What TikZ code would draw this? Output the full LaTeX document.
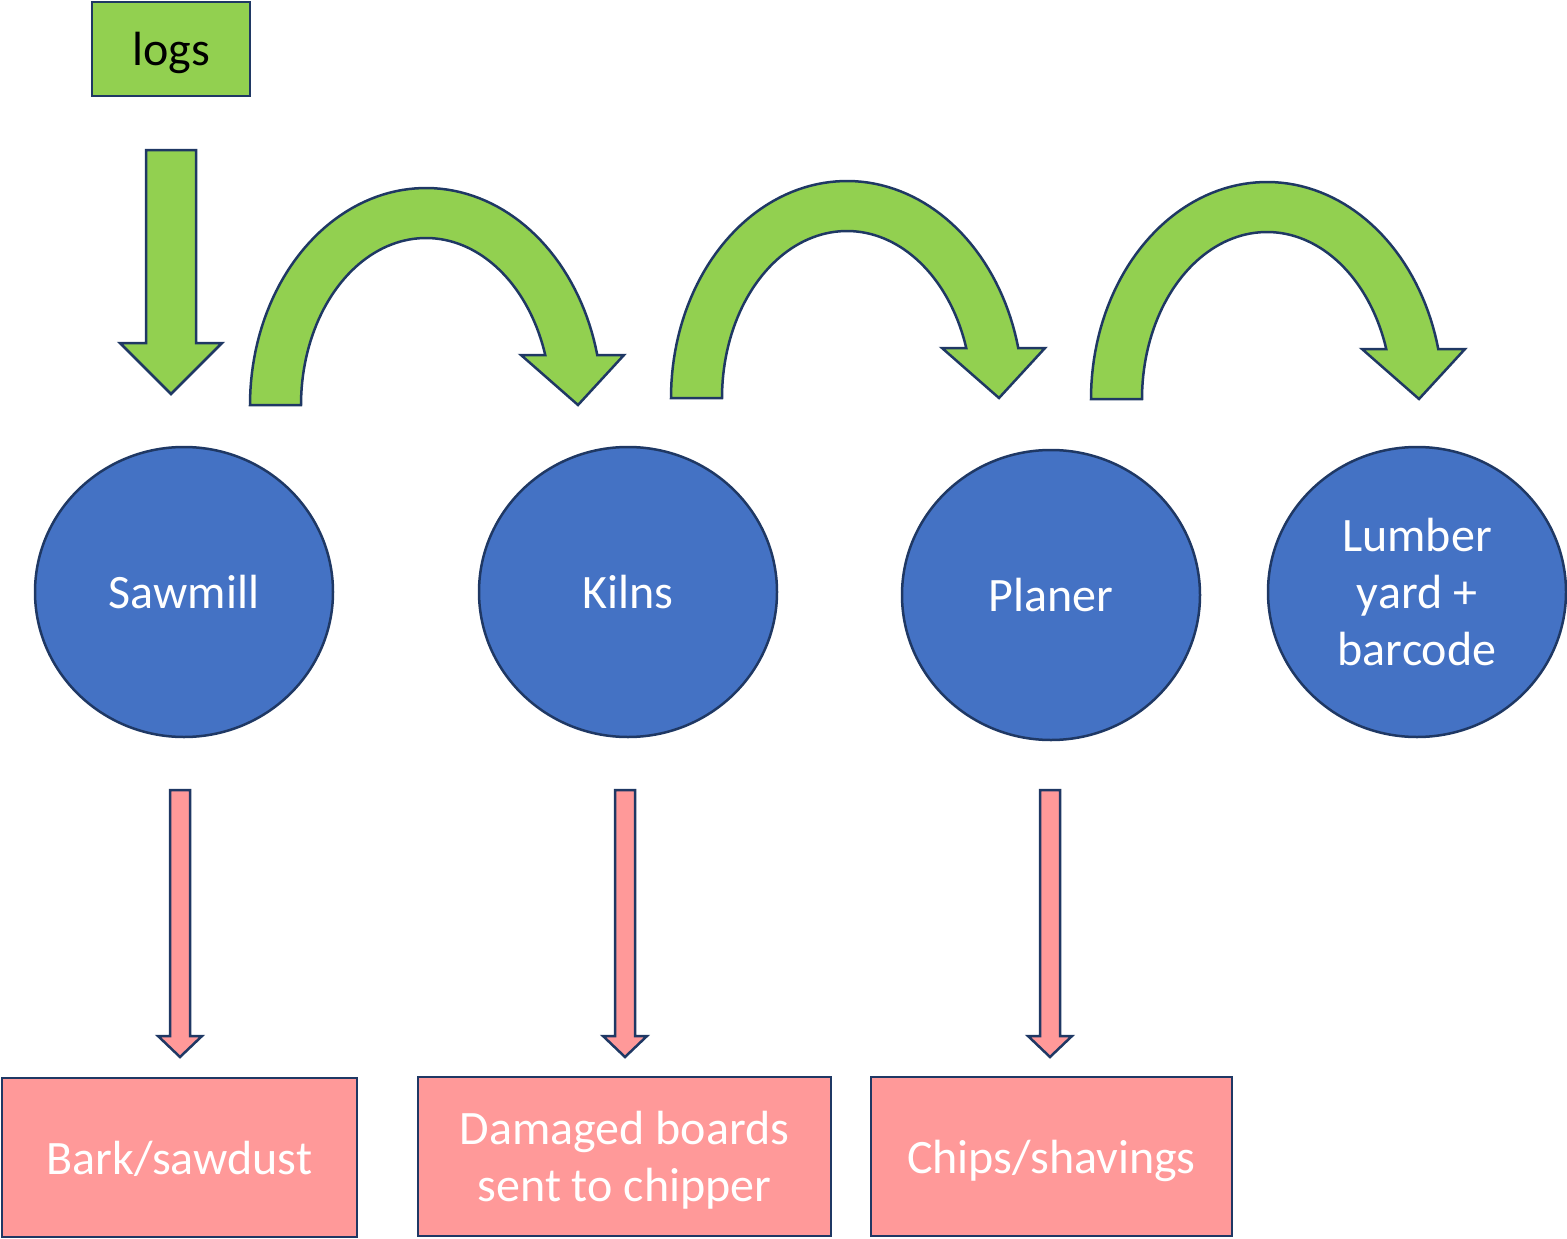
\documentclass[tikz,border=0pt]{standalone}
\usepackage{fontspec}
\setmainfont{Carlito}
\usetikzlibrary{shapes.geometric}
\definecolor{leaf}{HTML}{92D050}
\definecolor{steelblue}{HTML}{4472C4}
\definecolor{salmon}{HTML}{FF9999}
\definecolor{navy}{HTML}{1F3864}
\tikzset{
  outline/.style={draw=navy, line width=2.5pt, line join=miter},
  greenshape/.style={outline, fill=leaf},
  pinkshape/.style={outline, fill=salmon},
  label text/.style={text depth=0pt, align=center, font=\fontsize{48}{57}\selectfont},
  stage/.style={ellipse, outline, fill=steelblue, minimum width=298pt, minimum height=290pt,
    inner sep=0pt, text=white, label text},
  waste/.style={rectangle, pinkshape, text=white, label text},
}
\begin{document}
\begin{tikzpicture}[x=1pt,y=-1pt]
\useasboundingbox (0,0) rectangle (1567,1239);

% input
\node[rectangle, greenshape, minimum width=158pt, minimum height=94pt, inner sep=0pt,
  label text] (logs) at (171,49) {logs};

% process stages
\node[stage] (sawmill) at (184,592) {Sawmill};
\node[stage] (kilns) at (628,592) {Kilns};
\node[stage] (planer) at (1051,595) {Planer};
\node[stage] (yard) at (1417,592) {Lumber\\yard +\\barcode};

% by-products
\node[waste, minimum width=355pt, minimum height=159pt] (bark) at (179.5,1157.5) {Bark/sawdust};
\node[waste, minimum width=413pt, minimum height=159pt] (damaged) at (624.5,1156.5) {Damaged boards\\sent to chipper};
\node[waste, minimum width=361pt, minimum height=159pt] (chips) at (1051.5,1156.5) {Chips/shavings};

% straight block arrow into the sawmill
\draw[greenshape] (146,150) -- (196,150) -- (196,343) -- (222,343) -- (171,394)
  -- (120,343) -- (146,343) -- cycle;

% curved block arrows between stages
\foreach \cx/\cy in {426/405, 847/398, 1267/399}{
  \draw[greenshape]
    plot[domain=180:346.68, samples=80] ({\cx+176*cos(\x)},{\cy+217*sin(\x)})
    -- (\cx+198,\cy-50) -- (\cx+152,\cy) -- (\cx+95,\cy-50)
    -- plot[domain=342.58:180, samples=80] ({\cx+125*cos(\x)},{\cy+167*sin(\x)})
    -- cycle;
}

% thin block arrows down to the by-products
\foreach \ax in {180, 625, 1050}{
  \draw[pinkshape] (\ax-10,790) -- (\ax+10,790) -- (\ax+10,1036) -- (\ax+22,1036)
    -- (\ax,1057) -- (\ax-22,1036) -- (\ax-10,1036) -- cycle;
}
\end{tikzpicture}
\end{document}
